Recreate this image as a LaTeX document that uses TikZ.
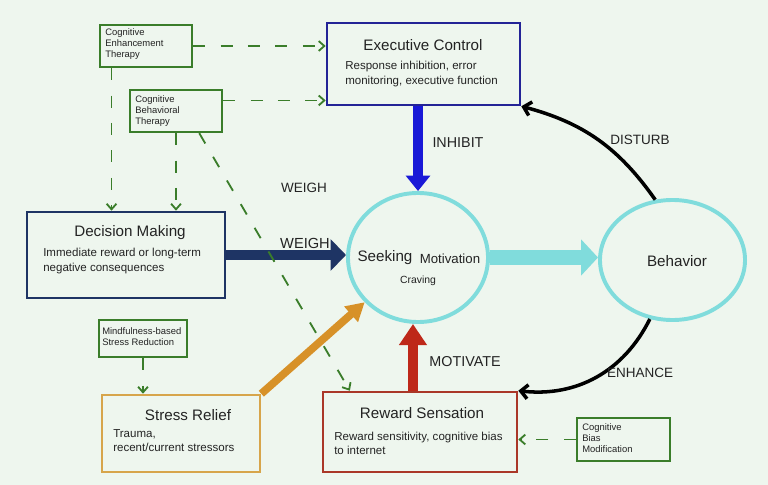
\documentclass[tikz,border=0pt]{standalone}
\usepackage{fontspec}
\setmainfont{Liberation Sans}
\usetikzlibrary{arrows.meta, shapes.geometric}

\definecolor{bgmint}{RGB}{238,246,238}
\definecolor{therapygreen}{RGB}{58,125,42}
\definecolor{execblue}{RGB}{35,35,150}
\definecolor{inhibitblue}{RGB}{25,25,215}
\definecolor{decisionnavy}{RGB}{30,52,100}
\definecolor{seekcyan}{RGB}{128,220,220}
\definecolor{rewardred}{RGB}{170,55,40}
\definecolor{motivred}{RGB}{190,40,25}
\definecolor{stressorange}{RGB}{215,165,75}
\definecolor{reliefarrow}{RGB}{215,145,40}
\definecolor{txtgray}{RGB}{35,35,35}

\begin{document}
\begin{tikzpicture}[x=0.025cm, y=-0.025cm,
    every node/.style={text=txtgray},
    bigbox/.style={draw, line width=1.8pt, inner sep=0pt},
    therapybox/.style={draw=therapygreen, line width=1.6pt, inner sep=0pt},
    oval/.style={ellipse, draw=seekcyan, line width=2.8pt, inner sep=0pt},
    title/.style={font=\fontsize{10.8}{13}\selectfont},
    desc/.style={font=\fontsize{8.2}{10}\selectfont, align=left, anchor=west, inner sep=0pt},
    tinytxt/.style={font=\fontsize{6.7}{7.8}\selectfont, align=left, anchor=west, inner sep=0pt},
    lbl/.style={font=\fontsize{9.6}{11}\selectfont},
    therapy/.style={draw=therapygreen, line width=1.3pt, dash pattern=on 8.5pt off 11pt,
        -{Straight Barb[length=4pt,width=7pt]}},
    curvy/.style={draw=black, line width=2.5pt, -{Straight Barb[length=5pt,width=10pt]}}]

    \fill[bgmint] (0,0) rectangle (768,485);

    % boxes
    \node[bigbox, draw=execblue, minimum width=4.825cm, minimum height=2.05cm] (exec) at (423.5,64) {};
    \node[title] (exectitle) at (423,45) {Executive Control};
    \node[desc] (execdesc) at (345,74) {Response inhibition, error\\monitoring, executive function};

    \node[bigbox, draw=decisionnavy, minimum width=4.95cm, minimum height=2.15cm] (decision) at (126,255) {};
    \node[title] (decisiontitle) at (130,233) {Decision Making};
    \node[desc] (decisiondesc) at (43,261) {Immediate reward or long-term\\negative consequences};

    \node[bigbox, draw=stressorange, minimum width=3.95cm, minimum height=1.925cm] (stress) at (181,433.5) {};
    \node[title] (stresstitle) at (188,415) {Stress Relief};
    \node[desc] (stressdesc) at (113,441) {Trauma,\\recent/current stressors};

    \node[bigbox, draw=rewardred, minimum width=4.85cm, minimum height=2.0cm] (reward) at (420,432) {};
    \node[title] (rewardtitle) at (422,413) {Reward Sensation};
    \node[desc] (rewarddesc) at (334,443.5) {Reward sensitivity, cognitive bias\\to internet};

    % therapies
    \node[therapybox, minimum width=2.3cm, minimum height=1.05cm] (cet) at (146,46) {};
    \node[tinytxt] (cettxt) at (105,44) {Cognitive\\Enhancement\\Therapy};
    \node[therapybox, minimum width=2.3cm, minimum height=1.05cm] (cbt) at (176,111) {};
    \node[tinytxt] (cbttxt) at (135,111) {Cognitive\\Behavioral\\Therapy};
    \node[therapybox, minimum width=2.2cm, minimum height=0.925cm] (mbsr) at (143,338.5) {};
    \node[tinytxt] (mbsrtxt) at (102,336.5) {Mindfulness-based\\Stress Reduction};
    \node[therapybox, minimum width=2.325cm, minimum height=1.075cm] (cbm) at (623.5,439.5) {};
    \node[tinytxt] (cbmtxt) at (582,438.5) {Cognitive\\Bias\\Modification};

    % ovals
    \node[oval, minimum width=3.5cm, minimum height=3.225cm] (seek) at (418,257.5) {};
    \node[font=\fontsize{10.8}{13}\selectfont] (seektxt) at (385,258) {Seeking};
    \node[font=\fontsize{9.4}{11}\selectfont] (motivtxt) at (450,259) {Motivation};
    \node[font=\fontsize{7.4}{9}\selectfont] (cravetxt) at (418,281) {Craving};
    \node[oval, minimum width=3.625cm, minimum height=3.0cm] (behav) at (672.5,260) {};
    \node[title] (behavtxt) at (677,261) {Behavior};

    % thick arrows
    \draw[inhibitblue, line width=6.5pt, -{Triangle[length=11pt,width=17pt]}]
        (seek.north |- exec.south) -- (seek.north);
    \draw[decisionnavy, line width=7.5pt, -{Triangle[length=11pt,width=22pt]}]
        (decision.east) -- (decision.east -| seek.west);
    \draw[seekcyan, line width=10.5pt, -{Triangle[length=12pt,width=25pt]}]
        (seek.east) -- (seek.east -| behav.west);
    \draw[motivred, line width=7pt, -{Triangle[length=15pt,width=19pt]}]
        ([xshift=-5pt]reward.north) -- ([xshift=-5pt]reward.north |- seek.south);
    \draw[reliefarrow, line width=5.5pt, -{Triangle[length=13pt,width=14pt]}]
        (stress.north east) -- (seek.220);

    % feedback curves
    \draw[curvy] (behav.106) to[bend right=20] (exec.south east);
    \draw[curvy] (behav.249) to[bend left=35] (reward.north east);

    % therapy links
    \draw[therapy] (cet.east) -- (cet.east -| exec.west);
    \draw[therapy] ([yshift=7.5pt]cbt.east) -- ([yshift=7.5pt]cbt.east -| exec.west);
    \draw[therapy] ([xshift=9pt]cet.south west) -- ([xshift=9pt]cet.south west |- decision.north);
    \draw[therapy] (cbt.south) -- (cbt.south |- decision.north);
    \draw[therapy] ([xshift=-17pt]cbt.south east) -- ([xshift=20pt]reward.north west);
    \draw[therapy] (mbsr.south) -- (mbsr.south |- stress.north);
    \draw[therapy] (cbm.west) -- (cbm.west -| reward.east);

    % labels
    \node[lbl, font=\fontsize{10.2}{12}\selectfont] (inhibit) at (458,143) {INHIBIT};
    \node[lbl] (weighfree) at (304,188) {WEIGH};
    \node[lbl, font=\fontsize{10.4}{12}\selectfont] (weigh) at (305,243) {WEIGH};
    \node[lbl, font=\fontsize{10.2}{12}\selectfont] (motivate) at (465,362) {MOTIVATE};
    \node[lbl] (disturb) at (640,140) {DISTURB};
    \node[lbl] (enhance) at (640,373) {ENHANCE};
\end{tikzpicture}
\end{document}
